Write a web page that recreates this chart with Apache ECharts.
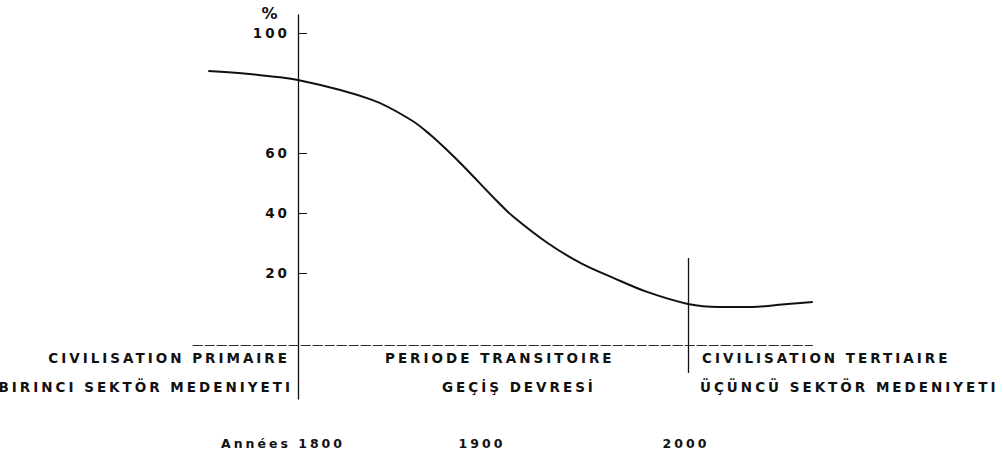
<!DOCTYPE html>
<html><head><meta charset="utf-8">
<script src="https://cdn.jsdelivr.net/npm/echarts@6/dist/echarts.min.js"></script>
<style>
html,body{margin:0;padding:0;background:#fff;}
#chart{width:1003px;height:456px;}
#chart text{letter-spacing:3px;}
</style></head><body><div id="chart"></div>
<script>
// Share of the primary sector (%) by year
const years  = [1754, 1775, 1800, 1838, 1858, 1868, 1878, 1885, 1902, 1910, 1928, 1945, 1962, 1979, 2000, 2016, 2033, 2051, 2064];
const shares = [87.3, 86.3, 84.3, 77.7, 71.0, 66.0, 60.0, 55.5, 44.0, 39.0, 30.0, 23.3, 18.3, 13.7, 9.7, 8.7, 8.7, 9.7, 10.3];
const yTicks = [20, 40, 60, 100];
const yearLabels = ['Années 1800', '1900', '2000'];
const periodsFr = ['CIVILISATION PRIMAIRE', 'PERIODE TRANSITOIRE', 'CIVILISATION TERTIAIRE'];
const periodsTr = ['BIRINCI SEKTÖR MEDENIYETI', 'GEÇİŞ DEVRESİ', 'ÜÇÜNCÜ SEKTÖR MEDENIYETI'];
const startYear = 1800, endYear = 2000;
const baseline = { level: -4, from: 1746, to: 2064 };
const transitionSpan = [25, -13.3];

const chart = echarts.init(document.getElementById('chart'), null, { renderer: 'svg' });
const ink = '#111';
const font = 'DejaVu Sans';
function txt(text, x, y, align, size, weight) {
  return { type: 'text', x: x, y: y, silent: true,
    style: { text: text, fill: ink, font: (weight || 'bold') + ' ' + (size || 13.5) + 'px "' + font + '"',
      textAlign: align, textVerticalAlign: 'middle' } };
}
chart.setOption({
  animation: false,
  backgroundColor: '#fff',
  textStyle: { fontFamily: font },
  grid: { left: 142, right: 159, top: 15, bottom: 57 },
  xAxis: { type: 'value', min: 1720, max: 2080,
    axisLine: { show: false }, axisTick: { show: false }, axisLabel: { show: false }, splitLine: { show: false } },
  yAxis: { type: 'value', min: -22, max: 106, position: 'left', offset: -156,
    axisLine: { show: true, lineStyle: { color: ink, width: 1.3 } },
    axisTick: { show: true, inside: true, length: 9, customValues: yTicks, lineStyle: { color: ink, width: 1 } },
    axisLabel: { show: true, customValues: yTicks, margin: 8, color: ink, fontSize: 13.5, fontWeight: 'bold', fontFamily: font },
    splitLine: { show: false } },
  series: [{
    type: 'line', smooth: 0.35, showSymbol: false, symbol: 'none',
    data: years.map((y, i) => [y, shares[i]]),
    lineStyle: { color: ink, width: 2 },
    markLine: { silent: true, symbol: 'none', label: { show: false },
      data: [
        [{ coord: [baseline.from, baseline.level], lineStyle: { color: '#2a2a2a', width: 1.2, type: [10, 2] } },
         { coord: [baseline.to, baseline.level] }],
        [{ coord: [endYear, transitionSpan[0]], lineStyle: { color: ink, width: 1.3, type: 'solid' } },
         { coord: [endYear, transitionSpan[1]] }]
      ] }
  }],
  graphic: [
    txt('%', 271, 13, 'center', 16),
    txt(periodsFr[0], 290, 358, 'right'),
    txt(periodsFr[1], 385, 358, 'left'),
    txt(periodsFr[2], 702, 358, 'left'),
    txt(periodsTr[0], 293, 387, 'right'),
    txt(periodsTr[1], 442, 387, 'left'),
    txt(periodsTr[2], 700, 387, 'left'),
    txt(yearLabels[0], 345, 443, 'right', 12.5),
    txt(yearLabels[1], 482, 443, 'center', 12.5),
    txt(yearLabels[2], 686, 443, 'center', 12.5)
  ]
});
</script></body></html>
